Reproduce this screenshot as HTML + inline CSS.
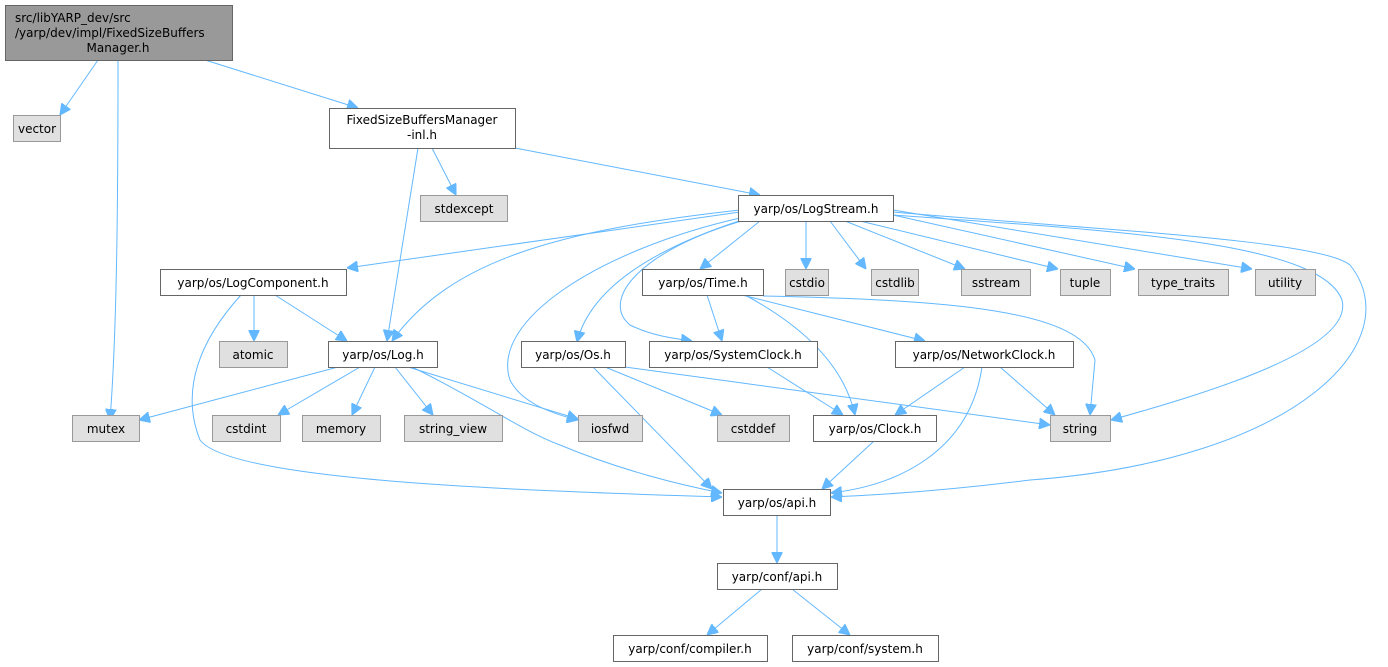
<!DOCTYPE html>
<html><head><meta charset="utf-8"><style>
html,body{margin:0;padding:0;background:#fff}
svg{display:block}
text{font-family:"DejaVu Sans","Liberation Sans",sans-serif;font-size:12px;fill:#000}
.w{fill:#fff;stroke:#666;stroke-width:1}
.g{fill:#e0e0e0;stroke:#999;stroke-width:1}
.m{fill:#999;stroke:#666;stroke-width:1}
path.e{fill:none;stroke:#63b8ff;stroke-width:1;marker-end:url(#a)}
</style></head><body>
<svg width="1388" height="667" viewBox="0 0 1388 667" xmlns="http://www.w3.org/2000/svg">
<defs><marker id="a" viewBox="0 0 10 10" refX="10" refY="5" markerWidth="11" markerHeight="11" markerUnits="userSpaceOnUse" orient="auto"><path d="M0,0L10,5L0,10z" fill="#63b8ff" stroke="#63b8ff"/></marker></defs>

<!-- edges -->
<path class="e" d="M98,60 L60,115"/>
<path class="e" d="M118,60 C118,200 117,330 110,420"/>
<path class="e" d="M205,60 L358,108"/>
<path class="e" d="M418,148 L387,341"/>
<path class="e" d="M432,148 L456,195"/>
<path class="e" d="M515,148 L760,195"/>
<path class="e" d="M740,212 L347,268"/>
<path class="e" d="M740,210 C560,230 450,260 392,341"/>
<path class="e" d="M740,218 C600,250 490,320 510,380 C520,400 545,412 578,420"/>
<path class="e" d="M742,220 C650,250 590,290 577,342"/>
<path class="e" d="M745,220 C640,250 600,300 630,325 C650,335 670,338 692,341"/>
<path class="e" d="M760,221 L700,269"/>
<path class="e" d="M806,221 L806,269"/>
<path class="e" d="M830,221 L866,269"/>
<path class="e" d="M845,221 L965,269"/>
<path class="e" d="M860,221 L1058,269"/>
<path class="e" d="M893,215 L1135,269"/>
<path class="e" d="M893,210 L1252,269"/>
<path class="e" d="M893,215 C1100,230 1320,240 1342,300 C1355,350 1200,395 1111,420"/>
<path class="e" d="M893,212 C1100,230 1320,240 1350,265 C1410,340 1300,460 1030,480 C950,490 880,495 831,497"/>
<path class="e" d="M241,295 C200,340 180,390 200,440 C230,480 500,490 722,497"/>
<path class="e" d="M254,295 L254,341"/>
<path class="e" d="M275,295 L347,341"/>
<path class="e" d="M338,367 L139,420"/>
<path class="e" d="M360,367 L278,415"/>
<path class="e" d="M375,367 L352,415"/>
<path class="e" d="M395,367 L433,415"/>
<path class="e" d="M408,367 L578,419"/>
<path class="e" d="M412,367 C480,400 520,430 560,445 C620,470 680,485 722,493"/>
<path class="e" d="M707,295 L722,341"/>
<path class="e" d="M742,295 L925,341"/>
<path class="e" d="M745,295 C810,330 845,370 855,415"/>
<path class="e" d="M763,296 C950,300 1080,310 1095,360 L1090,415"/>
<path class="e" d="M767,367 L843,415"/>
<path class="e" d="M965,367 L895,415"/>
<path class="e" d="M1000,367 L1055,415"/>
<path class="e" d="M982,367 C970,450 900,485 831,493"/>
<path class="e" d="M874,441 L822,489"/>
<path class="e" d="M593,367 L712,489"/>
<path class="e" d="M605,367 L722,415"/>
<path class="e" d="M625,367 L1050,425"/>
<path class="e" d="M777,515 L777,563"/>
<path class="e" d="M762,589 L707,635"/>
<path class="e" d="M792,589 L850,635"/>

<!-- nodes -->
<rect class="m" x="5.5" y="5.5" width="227" height="55"/>
<text x="15" y="22">src/libYARP_dev/src</text>
<text x="15" y="37">/yarp/dev/impl/FixedSizeBuffers</text>
<text x="118" y="52" text-anchor="middle">Manager.h</text>

<rect class="g" x="13.5" y="115.5" width="47" height="26"/><text x="37" y="133" text-anchor="middle">vector</text>
<rect class="w" x="329.5" y="108.5" width="186" height="40"/><text x="422" y="124" text-anchor="middle">FixedSizeBuffersManager</text><text x="422" y="139" text-anchor="middle">-inl.h</text>
<rect class="g" x="420.5" y="195.5" width="87" height="26"/><text x="464" y="213" text-anchor="middle">stdexcept</text>
<rect class="w" x="738.5" y="195.5" width="155" height="26"/><text x="816" y="213" text-anchor="middle">yarp/os/LogStream.h</text>

<rect class="w" x="160.5" y="269.5" width="186" height="26"/><text x="253" y="287" text-anchor="middle">yarp/os/LogComponent.h</text>
<rect class="w" x="642.5" y="269.5" width="121" height="26"/><text x="703" y="287" text-anchor="middle">yarp/os/Time.h</text>
<rect class="g" x="785.5" y="269.5" width="43" height="26"/><text x="807" y="287" text-anchor="middle">cstdio</text>
<rect class="g" x="871.5" y="269.5" width="47" height="26"/><text x="895" y="287" text-anchor="middle">cstdlib</text>
<rect class="g" x="961.5" y="269.5" width="69" height="26"/><text x="996" y="287" text-anchor="middle">sstream</text>
<rect class="g" x="1060.5" y="269.5" width="50" height="26"/><text x="1085" y="287" text-anchor="middle">tuple</text>
<rect class="g" x="1138.5" y="269.5" width="90" height="26"/><text x="1183" y="287" text-anchor="middle">type_traits</text>
<rect class="g" x="1255.5" y="269.5" width="60" height="26"/><text x="1285" y="287" text-anchor="middle">utility</text>

<rect class="g" x="219.5" y="341.5" width="68" height="26"/><text x="253" y="359" text-anchor="middle">atomic</text>
<rect class="w" x="328.5" y="341.5" width="109" height="26"/><text x="383" y="359" text-anchor="middle">yarp/os/Log.h</text>
<rect class="w" x="521.5" y="341.5" width="104" height="26"/><text x="573" y="359" text-anchor="middle">yarp/os/Os.h</text>
<rect class="w" x="649.5" y="341.5" width="168" height="26"/><text x="733" y="359" text-anchor="middle">yarp/os/SystemClock.h</text>
<rect class="w" x="895.5" y="341.5" width="178" height="26"/><text x="984" y="359" text-anchor="middle">yarp/os/NetworkClock.h</text>

<rect class="g" x="72.5" y="415.5" width="67" height="26"/><text x="106" y="433" text-anchor="middle">mutex</text>
<rect class="g" x="212.5" y="415.5" width="68" height="26"/><text x="246" y="433" text-anchor="middle">cstdint</text>
<rect class="g" x="302.5" y="415.5" width="78" height="26"/><text x="341" y="433" text-anchor="middle">memory</text>
<rect class="g" x="404.5" y="415.5" width="98" height="26"/><text x="453" y="433" text-anchor="middle">string_view</text>
<rect class="g" x="578.5" y="415.5" width="64" height="26"/><text x="610" y="433" text-anchor="middle">iosfwd</text>
<rect class="g" x="717.5" y="415.5" width="72" height="26"/><text x="753" y="433" text-anchor="middle">cstddef</text>
<rect class="w" x="813.5" y="415.5" width="123" height="26"/><text x="875" y="433" text-anchor="middle">yarp/os/Clock.h</text>
<rect class="g" x="1050.5" y="415.5" width="60" height="26"/><text x="1080" y="433" text-anchor="middle">string</text>

<rect class="w" x="723.5" y="489.5" width="107" height="26"/><text x="777" y="507" text-anchor="middle">yarp/os/api.h</text>
<rect class="w" x="717.5" y="563.5" width="120" height="26"/><text x="777" y="581" text-anchor="middle">yarp/conf/api.h</text>
<rect class="w" x="613.5" y="635.5" width="154" height="26"/><text x="690" y="653" text-anchor="middle">yarp/conf/compiler.h</text>
<rect class="w" x="792.5" y="635.5" width="146" height="26"/><text x="865" y="653" text-anchor="middle">yarp/conf/system.h</text>
</svg>
</body></html>
